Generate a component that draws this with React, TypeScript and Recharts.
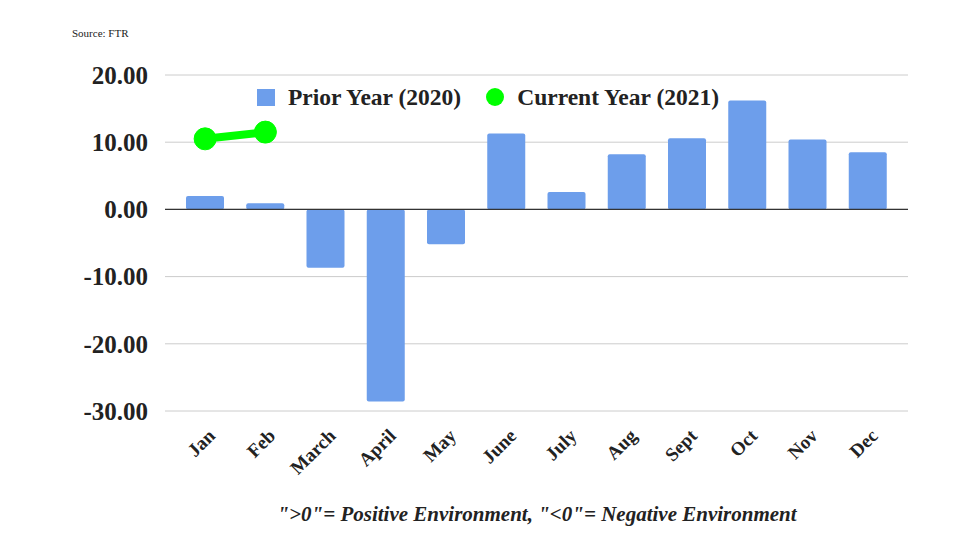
import React from "react";
import { ComposedChart, Bar, Line, XAxis, YAxis, CartesianGrid, ReferenceLine } from "recharts";

const months = ["Jan", "Feb", "March", "April", "May", "June", "July", "Aug", "Sept", "Oct", "Nov", "Dec"];
const priorYear = [2.0, 0.9, -8.7, -28.6, -5.2, 11.3, 2.6, 8.2, 10.6, 16.2, 10.4, 8.5];
const currentYear: (number | null)[] = [10.5, 11.5, null, null, null, null, null, null, null, null, null, null];
const yTicks = [-30, -20, -10, 0, 10, 20];

const data = months.map((m, i) => ({ month: m, prior: priorYear[i], current: currentYear[i] }));

const SERIF = "'Liberation Serif', 'Times New Roman', serif";
const BLUE = "#6d9eeb";
const GREEN = "#00ff00";

const XTick = (props: any) => {
  const { x, y, payload } = props;
  return (
    <g transform={`translate(${x + 11},${y + 18})`}>
      <text
        transform="rotate(-45)"
        textAnchor="end"
        fontFamily={SERIF}
        fontWeight="bold"
        fontSize={19}
        fill="#222"
      >
        {payload.value}
      </text>
    </g>
  );
};

export default function App() {
  return (
    <div style={{ position: "absolute", left: 0, top: 0, width: 980, height: 552, background: "#fff" }}>
      <div style={{ position: "absolute", left: 72, top: 27, fontFamily: SERIF, fontSize: 11, color: "#222" }}>Source: FTR</div>
      <ComposedChart width={980} height={552} data={data} margin={{ top: 75, right: 72, bottom: 0, left: 0 }}>
        <CartesianGrid vertical={false} stroke="#cccccc" strokeWidth={1} />
        <XAxis
          dataKey="month"
          axisLine={false}
          tickLine={false}
          height={141}
          interval={0}
          padding={{ left: 10, right: 10 }}
          tick={<XTick />}
        />
        <YAxis
          width={165}
          domain={[-30, 20]}
          ticks={yTicks}
          axisLine={false}
          tickLine={false}
          tickMargin={11}
          tickFormatter={(v: number) => v.toFixed(2)}
          tick={{ fontFamily: SERIF, fontWeight: "bold", fontSize: 25, fill: "#222" }}
        />
        <ReferenceLine y={0} stroke="#333" strokeWidth={1.2} />
        <Bar dataKey="prior" fill={BLUE} barSize={38} radius={2} isAnimationActive={false} />
        <Line
          dataKey="current"
          stroke={GREEN}
          strokeWidth={8}
          dot={{ r: 11, fill: GREEN, stroke: GREEN, strokeWidth: 1 }}
          connectNulls={false}
          isAnimationActive={false}
        />
      </ComposedChart>
      <div
        style={{
          position: "absolute",
          left: 257,
          top: 84,
          height: 26,
          display: "flex",
          alignItems: "center",
          fontFamily: SERIF,
          fontWeight: "bold",
          fontSize: 23.5,
          color: "#222",
          whiteSpace: "nowrap",
        }}
      >
        <span style={{ display: "inline-block", width: 18, height: 17, background: BLUE, marginRight: 13 }} />
        <span style={{ marginRight: 25 }}>Prior Year (2020)</span>
        <span style={{ display: "inline-block", width: 18, height: 18, borderRadius: 9, background: GREEN, marginRight: 13 }} />
        <span>Current Year (2021)</span>
      </div>
      <div
        style={{
          position: "absolute",
          left: 0,
          width: 1074,
          top: 502,
          textAlign: "center",
          fontFamily: SERIF,
          fontStyle: "italic",
          fontWeight: "bold",
          fontSize: 21,
          color: "#222",
        }}
      >
        "&gt;0"= Positive Environment, "&lt;0"= Negative Environment
      </div>
    </div>
  );
}
